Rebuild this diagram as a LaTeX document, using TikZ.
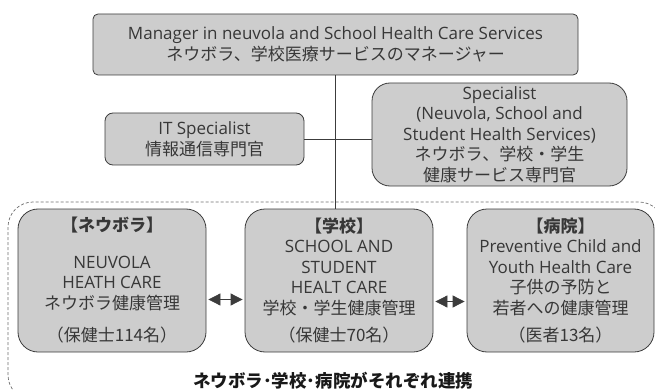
\documentclass[tikz,border=0pt]{standalone}
\usepackage{fontspec}
\setmainfont{Open Sans}
\newfontfamily\jp{Noto Sans CJK JP}
\usetikzlibrary{arrows.meta}
\definecolor{boxgray}{RGB}{205,205,205}
\definecolor{edgegray}{RGB}{60,60,60}
\definecolor{textgray}{RGB}{55,55,55}
\definecolor{framegray}{RGB}{110,110,110}

\begin{document}
\begin{tikzpicture}[x=1pt,y=-1pt,
  box/.style={draw=edgegray,fill=boxgray,line width=0.8pt,text=textgray,align=center,
    inner sep=0pt,font=\fontsize{17}{20.5}\selectfont},
  unit/.style={box,rounded corners=20pt,minimum width=188pt,minimum height=143pt},
  link/.style={edgegray,line width=0.8pt},
  both/.style={edgegray,line width=0.8pt,{Triangle[length=12pt,width=12pt]}-{Triangle[length=12pt,width=12pt]},
    shorten <=2pt,shorten >=2pt}]
\useasboundingbox (0,0) rectangle (655,390);

% dashed frame round the three units, cut by the page edge
\begin{scope}
\clip (0,0) rectangle (655,390);
\draw[framegray,dash pattern=on 3pt off 2pt,line width=0.7pt,rounded corners=25pt] (8,202) rectangle (664,400);
\end{scope}

\node[box,rounded corners=5pt,minimum width=485pt,minimum height=61pt] (mgr) at (335.5,44.5)
  {Manager in neuvola and School Health Care Services\\ {\jp ネウボラ、学校医療サービスのマネージャー}};
\node[box,rounded corners=8pt,minimum width=199pt,minimum height=52pt] (it) at (204.5,139)
  {IT Specialist\\ {\jp 情報通信専門官}};
\node[box,rounded corners=18pt,minimum width=255pt,minimum height=103pt] (spec) at (499.5,134.5)
  {Specialist\\ (Neuvola, School and\\ Student Health Services)\\ {\jp ネウボラ、学校・学生}\\ {\jp 健康サービス専門官}};

\node[unit] (neuvola) at (112,280.5)
  {{\jp\bfseries 【ネウボラ】}\\[16pt] NEUVOLA\\ HEATH CARE\\ {\jp ネウボラ健康管理}\\[12pt] {\jp （保健士114名）}};
\node[unit] (school) at (339,280.5)
  {{\jp\bfseries 【学校】}\\ SCHOOL AND\\ STUDENT\\ HEALT CARE\\ {\jp 学校・学生健康管理}\\[7pt] {\jp （保健士70名）}};
\node[unit,minimum width=187pt] (hosp) at (560.5,280.5)
  {{\jp\bfseries 【病院】}\\ Preventive Child and\\ Youth Health Care\\ {\jp 子供の予防と}\\ {\jp 若者への健康管理}\\[7pt] {\jp （医者13名）}};

\node[text=black!90,font=\jp\bfseries\fontsize{17.5}{20}\selectfont] (note) at (333,381)
  {ネウボラ･学校･病院がそれぞれ連携};

% reporting lines
\draw[link] (mgr.south) -- (mgr.south |- school.north);
\draw[link] (it.east) -- (it.east -| spec.west);

% cooperation between the units
\draw[both] ([yshift=-19pt]neuvola.east) -- ([yshift=-19pt]neuvola.east -| school.west);
\draw[both] ([yshift=-21pt]school.east) -- ([yshift=-21pt]school.east -| hosp.west);
\end{tikzpicture}
\end{document}
